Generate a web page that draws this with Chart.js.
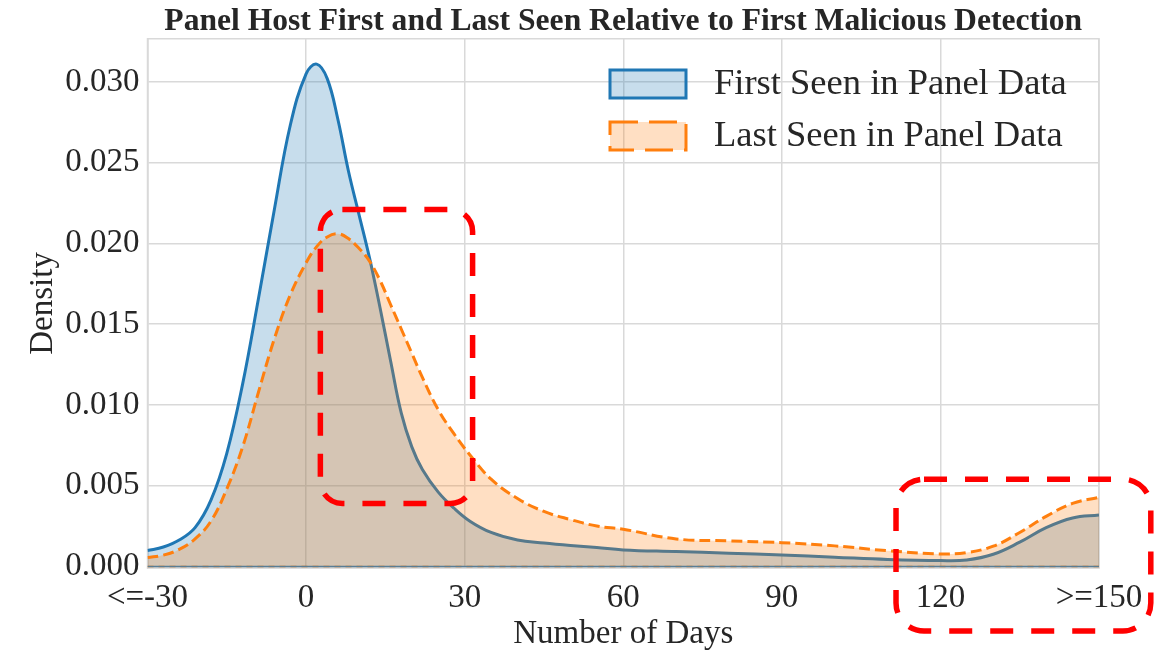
<!DOCTYPE html>
<html>
<head>
<meta charset="utf-8">
<script src="https://cdn.jsdelivr.net/npm/chart.js@4"></script>
<style>
    html, body { margin: 0; padding: 0; background: #fff; }
    #wrap { width: 1158px; height: 652px; }
</style>
</head>
<body>
<div id="wrap"><canvas id="chartCanvas" width="1158" height="652"></canvas></div>
<script>
// Days relative to first malicious detection (sample points)
const days = [-30, -27, -24, -21, -18, -15, -12, -9, -6, -3, 0, 2, 4, 6, 8, 10, 12, 14, 16, 18, 20, 22,
    25, 28, 31, 35, 40, 45, 50, 55, 60, 70, 80, 90, 100, 110, 120, 125, 130, 135, 140, 145, 150];

const firstSeen = [0.00098, 0.0012, 0.00163, 0.0024, 0.0041, 0.0070, 0.0113, 0.0166, 0.0221, 0.0273, 0.0305,
    0.0311, 0.0302, 0.0277, 0.0245, 0.0218, 0.0191, 0.0160, 0.0127, 0.0095, 0.0074, 0.0060,
    0.0046, 0.0036, 0.0028, 0.0021, 0.00163, 0.00145, 0.0013, 0.00117, 0.00102, 0.00092, 0.00082,
    0.00071, 0.00057, 0.00043, 0.00036, 0.00040, 0.00075, 0.0015, 0.0024, 0.0030, 0.00318];

const lastSeen = [0.00055, 0.0007, 0.00105, 0.0017, 0.0028, 0.0048, 0.0074, 0.0108, 0.0141, 0.0168, 0.0188,
    0.0198, 0.0204, 0.0206, 0.0203, 0.0197, 0.0189, 0.0177, 0.0162, 0.0147, 0.0132, 0.0117,
    0.0097, 0.0082, 0.0069, 0.0054, 0.0042, 0.0034, 0.0029, 0.0025, 0.0023, 0.0017, 0.00158,
    0.00147, 0.00127, 0.00097, 0.00077, 0.00086, 0.00125, 0.0021, 0.0031, 0.0039, 0.00427];

const xTicks = [-30, 0, 30, 60, 90, 120, 150];
const xTickLabels = ['<=-30', '0', '30', '60', '90', '120', '>=150'];
const yTicks = [0, 0.005, 0.010, 0.015, 0.020, 0.025, 0.030];

// red dashed call-out boxes, in data units
const highlightBoxes = [
    { x0: 2.7, x1: 31.5, y0: 0.0039, y1: 0.0221, r: 22 },
    { x0: 111.6, x1: 159.8, y0: -0.0040, y1: 0.0054, r: 28 },
];

const serif = '"Liberation Serif", "Times New Roman", serif';
const textColor = '#262626';
const gridColor = '#d9d9d9';

const toPoints = ys => days.map((d, i) => ({ x: d, y: ys[i] }));

// Top and right spines
const framePlugin = {
    id: 'frame',
    beforeDatasetsDraw(chart) {
        const { ctx, chartArea: a } = chart;
        ctx.save();
        ctx.strokeStyle = gridColor;
        ctx.lineWidth = 1.5;
        ctx.strokeRect(a.left, a.top, a.right - a.left, a.bottom - a.top);
        ctx.restore();
    }
};

// Legend inside the plot, top right
const legendPlugin = {
    id: 'insideLegend',
    afterDraw(chart) {
        const ctx = chart.ctx;
        ctx.save();
        ctx.font = '36.5px ' + serif;
        ctx.textBaseline = 'middle';
        chart.data.datasets.slice(0, 2).forEach((ds, i) => {
            const y = 70 + i * 52;
            ctx.fillStyle = ds.backgroundColor;
            ctx.fillRect(610, y, 76, 28);
            ctx.lineWidth = 3;
            ctx.strokeStyle = ds.borderColor;
            ctx.setLineDash(ds.borderDash ? [28, 11] : []);
            ctx.strokeRect(610, y, 76, 28);
            ctx.setLineDash([]);
            ctx.fillStyle = textColor;
            ctx.fillText(ds.label, 714, y + 14);
        });
        ctx.restore();
    }
};

function roundedRect(ctx, l, t, w, h, r) {
    ctx.beginPath();
    ctx.moveTo(l + r, t);
    ctx.arcTo(l + w, t, l + w, t + h, r);
    ctx.arcTo(l + w, t + h, l, t + h, r);
    ctx.arcTo(l, t + h, l, t, r);
    ctx.arcTo(l, t, l + w, t, r);
    ctx.closePath();
}

const highlightPlugin = {
    id: 'highlight',
    afterDraw(chart) {
        const { ctx, scales: { x, y } } = chart;
        ctx.save();
        ctx.strokeStyle = '#ff0000';
        ctx.lineWidth = 5.5;
        ctx.setLineDash([23, 18]);
        highlightBoxes.forEach(b => {
            const l = x.getPixelForValue(b.x0);
            const r = x.getPixelForValue(b.x1);
            const t = y.getPixelForValue(b.y1);
            const btm = y.getPixelForValue(b.y0);
            roundedRect(ctx, l, t, r - l, btm - t, b.r);
            ctx.stroke();
        });
        ctx.restore();
    }
};

const ctx = document.getElementById('chartCanvas').getContext('2d');
const chart = new Chart(ctx, {
    type: 'line',
    data: {
        datasets: [
            {
                label: 'First Seen in Panel Data',
                data: toPoints(firstSeen),
                borderColor: '#1f77b4',
                backgroundColor: 'rgba(31,119,180,0.25)',
                borderWidth: 3,
                fill: 'origin',
                pointRadius: 0,
                tension: 0.4,
                order: 2,
            },
            {
                label: 'Last Seen in Panel Data',
                data: toPoints(lastSeen),
                borderColor: '#ff7f0e',
                backgroundColor: 'rgba(255,127,14,0.25)',
                borderWidth: 3,
                borderDash: [11, 5],
                fill: 'origin',
                pointRadius: 0,
                tension: 0.4,
                order: 1,
            },
            // closing edges of the filled areas along y = 0
            {
                data: [{ x: xTicks[0], y: 0 }, { x: xTicks[xTicks.length - 1], y: 0 }],
                borderColor: '#5a7d94',
                borderWidth: 1.5,
                pointRadius: 0,
                order: 0,
            },
            {
                data: [{ x: xTicks[0], y: 0 }, { x: xTicks[xTicks.length - 1], y: 0 }],
                borderColor: '#ff7f0e',
                borderWidth: 1.5,
                borderDash: [6, 5],
                pointRadius: 0,
                order: 0,
            },
        ],
    },
    options: {
        responsive: false,
        animation: false,
        devicePixelRatio: 1,
        layout: { padding: { left: 0, right: 59, top: 0, bottom: 0 } },
        plugins: {
            legend: { display: false },
            tooltip: { enabled: false },
            title: {
                display: true,
                fullSize: false,
                text: 'Panel Host First and Last Seen Relative to First Malicious Detection',
                color: textColor,
                font: { family: serif, size: 31.6, weight: 'bold', lineHeight: 1.1 },
                padding: { top: 4, bottom: 0 },
            },
        },
        scales: {
            x: {
                type: 'linear',
                min: -30,
                max: 150,
                afterBuildTicks: scale => { scale.ticks = xTicks.map(v => ({ value: v })); },
                afterFit: scale => { scale.height = 84; },
                ticks: {
                    callback: (v, i) => xTickLabels[i],
                    color: textColor,
                    font: { family: serif, size: 33 },
                    padding: 11,
                    maxRotation: 0,
                    autoSkip: false,
                },
                grid: { color: gridColor, lineWidth: 1.5, drawTicks: false },
                border: { color: gridColor, width: 1.5 },
                title: {
                    display: true,
                    text: 'Number of Days',
                    color: textColor,
                    font: { family: serif, size: 33, lineHeight: 1 },
                    padding: { top: 0, bottom: 1 },
                },
            },
            y: {
                min: -0.0001,
                max: 0.03267,
                afterBuildTicks: scale => { scale.ticks = yTicks.map(v => ({ value: v })); },
                afterFit: scale => { scale.width = 147.5; },
                ticks: {
                    callback: v => v.toFixed(3),
                    color: textColor,
                    font: { family: serif, size: 33 },
                    padding: 8,
                },
                grid: { color: gridColor, lineWidth: 1.5, drawTicks: false },
                border: { color: gridColor, width: 1.5 },
                title: {
                    display: true,
                    text: 'Density',
                    color: textColor,
                    font: { family: serif, size: 33, lineHeight: 1 },
                    padding: { top: 27, bottom: 0 },
                },
            },
        },
    },
    plugins: [framePlugin, legendPlugin, highlightPlugin],
});
</script>
</body>
</html>
